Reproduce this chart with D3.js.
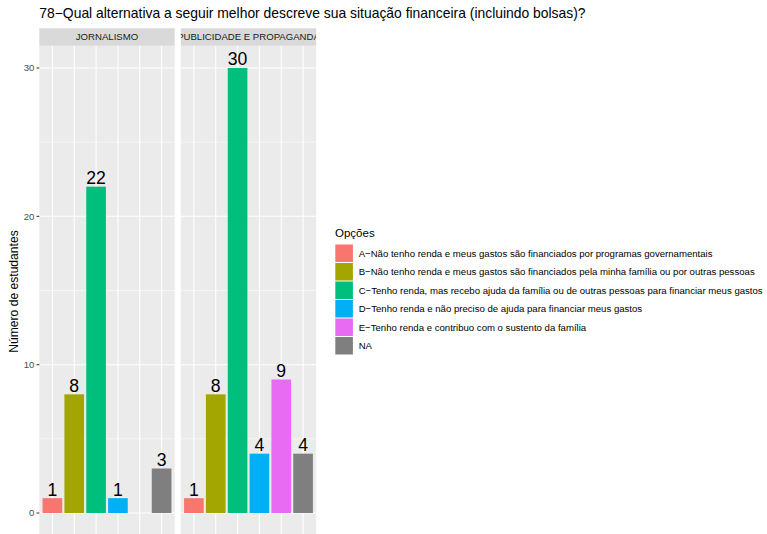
<!DOCTYPE html>
<html><head><meta charset="utf-8">
<script src="https://cdn.jsdelivr.net/npm/d3@7"></script>
<style>body{margin:0;background:#fff}svg{display:block;font-family:"Liberation Sans",Arial,sans-serif}</style>
</head><body>
<svg id="c" width="767" height="534"></svg>
<script>
const title = "78−Qual alternativa a seguir melhor descreve sua situação financeira (incluindo bolsas)?";
const facets = ["JORNALISMO", "PUBLICIDADE E PROPAGANDA"];
const categories = ["A", "B", "C", "D", "E", "NA"];
const legendLabels = [
  "A−Não tenho renda e meus gastos são financiados por programas governamentais",
  "B−Não tenho renda e meus gastos são financiados pela minha família ou por outras pessoas",
  "C−Tenho renda, mas recebo ajuda da família ou de outras pessoas para financiar meus gastos",
  "D−Tenho renda e não preciso de ajuda para financiar meus gastos",
  "E−Tenho renda e contribuo com o sustento da família",
  "NA"
];
const colors = ["#F8766D", "#A3A500", "#00BF7D", "#00B0F6", "#E76BF3", "#7F7F7F"];
const jornalismo = [1, 8, 22, 1, null, 3];
const publicidade = [1, 8, 30, 4, 9, 4];
const yTicks = [0, 10, 20, 30];
const yMinor = [5, 15, 25];
const yTitle = "Número de estudantes";
const legendTitle = "Opções";

const svg = d3.select("#c");
const seriesByFacet = [jornalismo, publicidade];
const panelX = [[39.3, 174.7], [180.8, 316.2]];
const panelTop = 45.75, panelBottom = 535.25, stripTop = 28.3;
const small = 9.6;

const y = d3.scaleLinear().domain([-1.5, 31.5]).range([panelBottom, panelTop]);

const defs = svg.append("defs");

facets.forEach((f, i) => {
  const [x0, x1] = panelX[i];
  const x = d3.scalePoint().domain(categories).range([x0, x1]).padding(0.6);
  const bw = x.step() * 0.9;
  const g = svg.append("g");
  g.append("rect").attr("x", x0).attr("y", panelTop).attr("width", x1 - x0).attr("height", panelBottom - panelTop).attr("fill", "#EBEBEB");
  g.selectAll(".mn").data(yMinor).join("line")
    .attr("x1", x0).attr("x2", x1).attr("y1", d => y(d)).attr("y2", d => y(d))
    .attr("stroke", "#fff").attr("stroke-width", 0.53);
  g.selectAll(".mj").data(yTicks).join("line")
    .attr("x1", x0).attr("x2", x1).attr("y1", d => y(d)).attr("y2", d => y(d))
    .attr("stroke", "#fff").attr("stroke-width", 1.07);
  g.selectAll(".vx").data(categories).join("line")
    .attr("x1", d => x(d)).attr("x2", d => x(d)).attr("y1", panelTop).attr("y2", panelBottom)
    .attr("stroke", "#fff").attr("stroke-width", 1.07);
  const data = categories.map((c, k) => ({c, v: seriesByFacet[i][k], col: colors[k]})).filter(d => d.v != null);
  g.selectAll(".bar").data(data).join("rect")
    .attr("x", d => x(d.c) - bw / 2).attr("width", bw)
    .attr("y", d => y(d.v)).attr("height", d => y(0) - y(d.v))
    .attr("fill", d => d.col);
  g.selectAll(".lbl").data(data).join("text")
    .attr("x", d => x(d.c)).attr("y", d => y(d.v) - 2.6)
    .attr("text-anchor", "middle").attr("font-size", 17.6).attr("fill", "#000")
    .text(d => d.v);
  // strip
  const cid = "clip" + i;
  defs.append("clipPath").attr("id", cid).append("rect")
    .attr("x", x0).attr("y", stripTop).attr("width", x1 - x0).attr("height", panelTop - stripTop);
  g.append("rect").attr("x", x0).attr("y", stripTop).attr("width", x1 - x0).attr("height", panelTop - stripTop).attr("fill", "#D9D9D9");
  g.append("text").attr("clip-path", `url(#${cid})`)
    .attr("x", (x0 + x1) / 2).attr("y", (stripTop + panelTop) / 2 + 3.4)
    .attr("text-anchor", "middle").attr("font-size", small).attr("fill", "#1A1A1A").text(f);
});

// y axis
const ax = svg.append("g");
ax.selectAll("line").data(yTicks).join("line")
  .attr("x1", 36.55).attr("x2", 39.3).attr("y1", d => y(d)).attr("y2", d => y(d))
  .attr("stroke", "#333").attr("stroke-width", 1.07);
ax.selectAll("text").data(yTicks).join("text")
  .attr("x", 34.4).attr("y", d => y(d) + 3.4).attr("text-anchor", "end")
  .attr("font-size", small).attr("fill", "#4D4D4D").text(d => d);
svg.append("text").attr("transform", `translate(17.6,291.5) rotate(-90)`)
  .attr("text-anchor", "middle").attr("font-size", 12.1).attr("fill", "#000").text(yTitle);

// title
svg.append("text").attr("x", 39.3).attr("y", 18.3).attr("font-size", 13.9).attr("fill", "#000").text(title);

// legend
const lg = svg.append("g");
lg.append("text").attr("x", 335).attr("y", 236.5).attr("font-size", 11.5).attr("fill", "#000").text(legendTitle);
const kw = 17.6, kh = 18.5, ky0 = 244, kx = 335.3;
lg.selectAll("rect").data(legendLabels).join("rect")
  .attr("x", kx).attr("y", (d, i) => ky0 + i * kh + 0.5)
  .attr("width", kw).attr("height", kh - 1)
  .attr("fill", (d, i) => colors[i]);
lg.selectAll("text.l").data(legendLabels).join("text").attr("class", "l")
  .attr("x", 358.7).attr("y", (d, i) => ky0 + i * kh + kh / 2 + 3.4)
  .attr("font-size", small).attr("fill", "#000").text(d => d);
</script>
</body></html>
